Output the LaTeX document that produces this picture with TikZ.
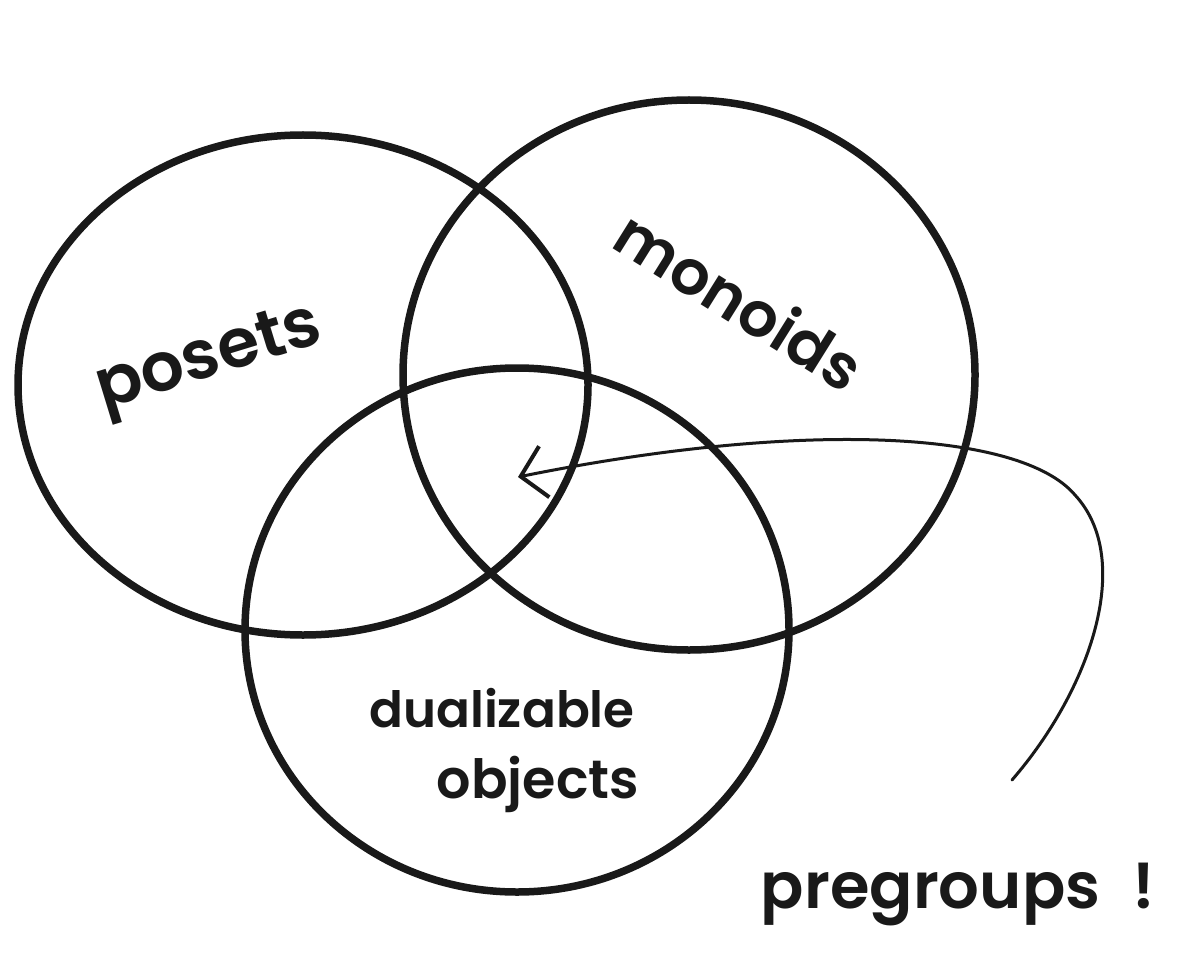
\documentclass[tikz,border=0pt]{standalone}
\usepackage{fontspec}
\setmainfont{Poppins}[BoldFont={Poppins SemiBold}]
\usetikzlibrary{arrows.meta}
\begin{document}
\begin{tikzpicture}[x=1pt,y=-1pt,
  venn/.style={draw=black!90,line width=7.5pt},
  lbl/.style={inner sep=0pt,text=black!90,font=\bfseries},
  pointer/.style={draw=black!90,line width=3pt,line cap=round}]
\useasboundingbox (0,0) rectangle (1182,976);
\fill[white] (0,0) rectangle (1182,976);
\draw[venn] (303,385) ellipse [x radius=285,y radius=250];
\draw[venn] (689,375) ellipse [x radius=286,y radius=275];
\draw[venn] (517,630) ellipse [x radius=272,y radius=262];
\node[lbl,rotate=17] (posets) at (210,362) {\fontsize{68}{70}\selectfont posets};
\node[lbl,rotate=-32] (monoids) at (740,300) {\fontsize{62}{66}\selectfont monoids};
\node[lbl] (dual) at (502,708) {\fontsize{50}{52}\selectfont dualizable};
\node[lbl] (obj) at (538,784) {\fontsize{54}{56}\selectfont objects};
\node[lbl] (preg) at (958,895) {\fontsize{64}{66}\selectfont pregroups\hspace{0.5em}!};
\coordinate (start) at (1012,780);
\coordinate (tip) at (518,477);
\draw[pointer,-{Straight Barb[length=24pt,width=52pt,line width=4pt]}]
  (start) .. controls (1090,690) and (1135,560) .. (1075,495)
  .. controls (1020,430) and (800,420) .. (tip);
\end{tikzpicture}
\end{document}
